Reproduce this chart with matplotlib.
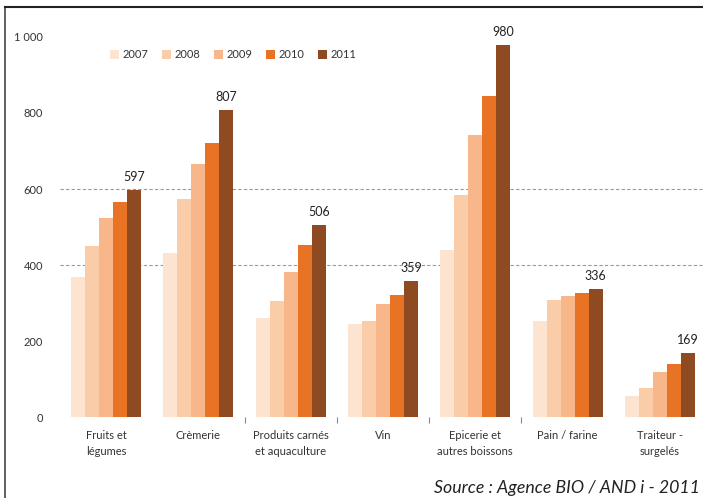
import matplotlib
matplotlib.use("Agg")
import matplotlib.pyplot as plt
import numpy as np
from matplotlib.lines import Line2D

# donnees
categories = ["Fruits et\nlégumes", "Crèmerie", "Produits carnés\net aquaculture", "Vin",
              "Epicerie et\nautres boissons", "Pain / farine", "Traiteur -\nsurgelés"]
years = ["2007", "2008", "2009", "2010", "2011"]
v2007 = [368, 432, 261, 246, 439, 253, 55]
v2008 = [450, 574, 305, 253, 584, 308, 77]
v2009 = [523, 665, 382, 297, 742, 318, 118]
v2010 = [566, 721, 453, 320, 845, 326, 139]
v2011 = [597, 807, 506, 359, 980, 336, 169]
series = [v2007, v2008, v2009, v2010, v2011]
colors = ["#FDE4D0", "#FBCCA8", "#F8B78A", "#E87325", "#8E4A21"]
yticks = [0, 200, 400, 600, 800, 1000]
grid_levels = [400, 600]

plt.rcParams["font.family"] = ["Lato", "DejaVu Sans"]

fig = plt.figure(figsize=(7.03, 4.98), dpi=100)
ax = fig.add_axes([60 / 703, 1 - 417 / 498, 646 / 703, 380 / 498])

x = np.arange(len(categories))
bw = 0.152
for i, (vals, col, yr) in enumerate(zip(series, colors, years)):
    ax.bar(x + (i - 2) * bw, vals, width=bw, color=col, label=yr, zorder=2)

# etiquettes 2011
for xi, v in zip(x, v2011):
    ax.text(xi + 2 * bw, v + 18, str(v), ha="center", va="bottom",
            fontsize=9, color="#222222", clip_on=False)

for g in grid_levels:
    ax.axhline(g, color="#9a9a9a", lw=0.8, ls=(0, (3, 2)), zorder=1)

ax.set_xlim(-0.5, 6.5)
ax.set_ylim(0, 1000)
ax.set_yticks(yticks)
ax.set_yticklabels([f"{t:,}".replace(",", " ") for t in yticks], fontsize=8, color="#333333")
ax.set_xticks(x)
ax.set_xticklabels(categories, fontsize=8, color="#333333", linespacing=1.6)
ax.set_xticks([1.5, 2.5, 3.5, 4.5], minor=True)
ax.tick_params(axis="x", which="major", length=0, pad=9)
ax.tick_params(axis="x", which="minor", length=4, color="#888888", width=0.8)
ax.tick_params(axis="y", length=0, pad=12)
for s in ax.spines.values():
    s.set_visible(False)

leg = ax.legend(loc="center", bbox_to_anchor=(233 / 703, 1 - 55 / 498),
                bbox_transform=fig.transFigure, ncol=5, frameon=False,
                fontsize=8, handlelength=0.8, handleheight=0.8,
                handletextpad=0.3, columnspacing=1.25)
for t in leg.get_texts():
    t.set_color("#333333")

# cadre
fig.add_artist(Line2D([5 / 703, 5 / 703], [0, 1 - 7 / 498], color="#444444", lw=1.2,
                      transform=fig.transFigure))
fig.add_artist(Line2D([5 / 703, 1], [1 - 7 / 498, 1 - 7 / 498], color="#222222", lw=1.5,
                      transform=fig.transFigure))

fig.text(700 / 703, 1 - 488 / 498, "Source : Agence BIO / AND i - 2011", ha="right",
         va="center", fontsize=12.8, style="italic", color="#222222")

fig.savefig("out.png", dpi=100)
